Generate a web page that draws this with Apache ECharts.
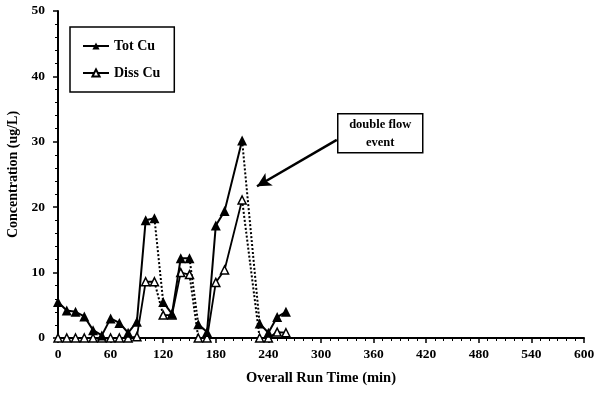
<!DOCTYPE html>
<html><head><meta charset="utf-8">
<script src="https://cdn.jsdelivr.net/npm/echarts@6/dist/echarts.min.js"></script>
<style>html,body{margin:0;padding:0;background:#fff}#c{width:596px;height:399px}</style>
</head><body><div id="c"></div>
<script>
var times = [0,10,20,30,40,50,60,70,80,90,100,110,120,130,140,150,160,170,180,190,210,230,240,250,260];
var totCu = [5.5,4.2,4.0,3.3,1.2,0.4,3.0,2.3,0.8,2.5,18.0,18.3,5.5,3.7,12.2,12.2,2.1,0.9,17.2,19.4,30.2,2.2,0.8,3.2,4.0];
var dissCu = [0,0,0,0,0,0,0,0,0,0.2,8.6,8.6,3.5,3.5,10.0,9.7,0,0,8.5,10.4,21.1,0,0,0.9,0.8];
var dottedStarts = [11,15,20];
var annotText = 'double flow\nevent';
var arrowFrom = [318,30.3], arrowTo = [227,23.2];

var FONT = '"Liberation Serif", "Times New Roman", serif';
function solidData(vals){
  var d=[];
  for(var i=0;i<times.length;i++){
    d.push([times[i],vals[i]]);
    if(dottedStarts.indexOf(i)>=0){ d.push([(times[i]+times[i+1])/2,'-']); }
  }
  return d;
}
function dottedData(vals){
  var d=[];
  dottedStarts.forEach(function(i){
    d.push([times[i],vals[i]]); d.push([times[i+1],vals[i+1]]); d.push([times[i+1]+1,'-']);
  });
  return d;
}
var chart = echarts.init(document.getElementById('c'));
chart.setOption({
  animation:false,
  grid:{left:58,right:12,top:11,bottom:61,containLabel:false,outerBoundsMode:'none'},
  textStyle:{fontFamily:FONT},
  legend:{
    data:['Tot Cu','Diss Cu'], orient:'vertical', left:70, top:27,
    padding:[12,14,12,12], itemGap:13, itemWidth:26, itemHeight:9,
    borderColor:'#000', borderWidth:1.5,
    textStyle:{fontFamily:FONT,fontWeight:'bold',fontSize:14,color:'#000'}
  },
  xAxis:{
    type:'value', min:0, max:600, interval:60,
    name:'Overall Run Time (min)', nameLocation:'middle', nameGap:33,
    nameTextStyle:{fontFamily:FONT,fontWeight:'bold',fontSize:14.5,color:'#000'},
    axisLine:{lineStyle:{color:'#000',width:2}},
    axisTick:{length:5,lineStyle:{color:'#000',width:1.5}},
    minorTick:{show:true,splitNumber:6,length:3,lineStyle:{color:'#000'}},
    splitLine:{show:false},
    axisLabel:{fontFamily:FONT,fontWeight:'bold',fontSize:13.5,color:'#000',margin:10}
  },
  yAxis:{
    type:'value', min:0, max:50, interval:10,
    name:'Concentration (ug/L)', nameLocation:'middle', nameGap:28,
    nameTextStyle:{fontFamily:FONT,fontWeight:'bold',fontSize:14,color:'#000'},
    axisLine:{show:true,lineStyle:{color:'#000',width:2}},
    axisTick:{show:true,length:5,lineStyle:{color:'#000',width:1.5}},
    minorTick:{show:true,splitNumber:5,length:3,lineStyle:{color:'#000'}},
    splitLine:{show:false},
    axisLabel:{fontFamily:FONT,fontWeight:'bold',fontSize:13.5,color:'#000',margin:13}
  },
  graphic:[{
    type:'group', left:337, top:113,
    children:[
      {type:'rect',shape:{x:0,y:0,width:85,height:39},style:{fill:'#fff',stroke:'#000',lineWidth:1.5}},
      {type:'text',style:{x:42.5,y:20,text:annotText,align:'center',verticalAlign:'middle',
        font:'bold 12.5px '+FONT,fill:'#000',lineHeight:18}}
    ]
  }],
  series:[
    {name:'Tot Cu',type:'line',data:solidData(totCu),symbol:'triangle',symbolSize:10,
      itemStyle:{color:'#000'},lineStyle:{color:'#000',width:2},z:5,
      markLine:{silent:true,symbol:['none','arrow'],symbolSize:[11,14],label:{show:false},
        lineStyle:{color:'#000',width:2.5,type:'solid'},
        data:[[{coord:arrowFrom},{coord:arrowTo}]]}},
    {name:'Diss Cu',type:'line',data:solidData(dissCu),symbol:'triangle',symbolSize:8,
      itemStyle:{color:'#fff',borderColor:'#000',borderWidth:1.5},lineStyle:{color:'#000',width:1.8},z:4},
    {name:'TotDot',type:'line',data:dottedData(totCu),showSymbol:false,
      lineStyle:{color:'#000',width:2,type:[2,2]},z:3},
    {name:'DissDot',type:'line',data:dottedData(dissCu),showSymbol:false,
      lineStyle:{color:'#000',width:2,type:[2,2]},z:3}
  ]
});
</script></body></html>
